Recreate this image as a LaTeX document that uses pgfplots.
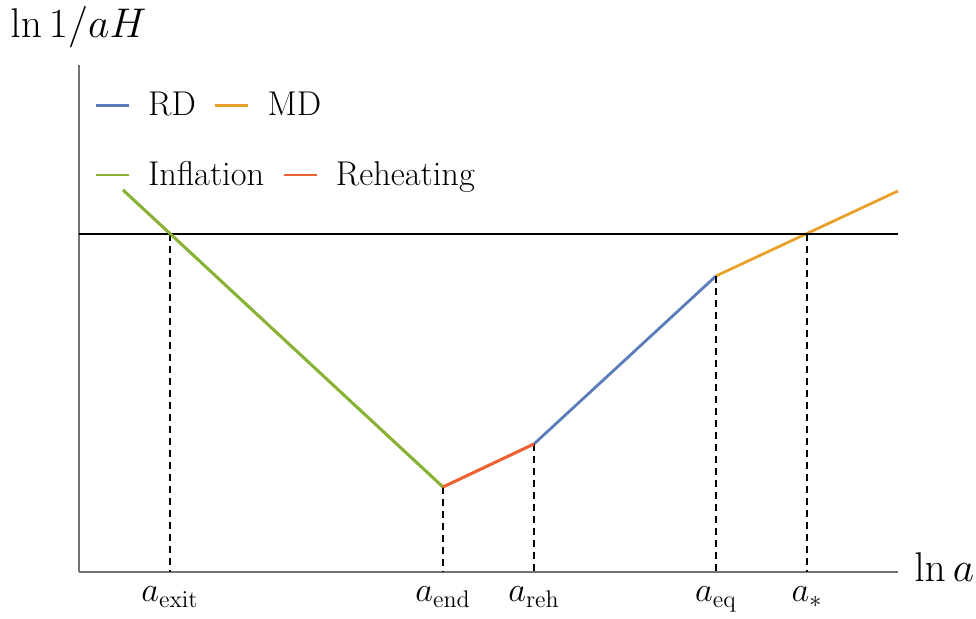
\documentclass[border=0pt]{standalone}
\usepackage{pgfplots}
\pgfplotsset{compat=1.18}
\definecolor{cRD}{RGB}{90,125,185}
\definecolor{cMD}{RGB}{232,160,42}
\definecolor{cInf}{RGB}{138,178,52}
\definecolor{cReh}{RGB}{238,98,52}
\begin{document}
\begin{tikzpicture}
\begin{axis}[
  x=0.5pt, y=0.5pt,
  xmin=79, xmax=898, ymin=47, ymax=554,
  clip=false,
  axis x line*=bottom, axis y line*=left,
  axis line style={draw=black!55, line width=0.7pt},
  xtick={170,443,534,716,807},
  xticklabels={$a_{\mathrm{exit}}$,$a_{\mathrm{end}}$,$a_{\mathrm{reh}}$,$a_{\mathrm{eq}}$,$a_{*}$},
  ytick=\empty,
  major tick length=0pt,
  xticklabel style={anchor=base, yshift=-15pt, font=\fontsize{17.6}{20}\selectfont},
  xlabel={$\ln a$},
  xlabel style={at={(axis description cs:1.0195,-0.0197)}, anchor=base west, inner sep=0pt, font=\fontsize{21.5}{24}\selectfont},
  ylabel={$\ln 1/aH$},
  ylabel style={rotate=-90, at={(axis description cs:-0.0842,1.0533)}, anchor=base west, inner sep=0pt, font=\fontsize{20.8}{24}\selectfont},
  legend columns=2,
  legend style={at={(axis cs:88,535)}, anchor=north west, draw=none, fill=none,
    font=\fontsize{17.2}{20}\selectfont,
    /tikz/every even column/.append style={column sep=7pt}},
  legend cell align=left,
  legend image code/.code={\draw[#1] (0pt,0pt) -- (16.5pt,0pt); \path (23.5pt,0pt);},
]
\path (axis cs:0,0) rectangle (axis cs:976,619);
\addplot[cRD, line width=1.4pt] coordinates {(534,175) (716,343)};
\addlegendentry{RD}
\addplot[cMD, line width=1.4pt] coordinates {(716,343) (898,428)};
\addlegendentry{MD}
\addplot[cInf, line width=1.4pt, forget plot] coordinates {(123,429) (443,132)};
\addplot[cReh, line width=1.4pt, forget plot] coordinates {(443,132) (534,175)};
\addplot[black, line width=1pt, forget plot] coordinates {(79,385) (898,385)};
\addplot[black, line width=0.9pt, dash pattern=on 3.5pt off 2.5pt, forget plot] coordinates {(170,385) (170,47)};
\addplot[black, line width=0.9pt, dash pattern=on 3.5pt off 2.5pt, forget plot] coordinates {(443,132) (443,47)};
\addplot[black, line width=0.9pt, dash pattern=on 3.5pt off 2.5pt, forget plot] coordinates {(534,175) (534,47)};
\addplot[black, line width=0.9pt, dash pattern=on 3.5pt off 2.5pt, forget plot] coordinates {(716,343) (716,47)};
\addplot[black, line width=0.9pt, dash pattern=on 3.5pt off 2.5pt, forget plot] coordinates {(807,385) (807,47)};
\end{axis}
\begin{axis}[
  x=0.5pt, y=0.5pt,
  xmin=79, xmax=898, ymin=47, ymax=554,
  hide axis, clip=false,
  legend columns=2,
  legend style={at={(axis cs:88,466)}, anchor=north west, draw=none, fill=none,
    font=\fontsize{17.2}{20}\selectfont,
    /tikz/every even column/.append style={column sep=7pt}},
  legend cell align=left,
  legend image code/.code={\draw[#1] (0pt,0pt) -- (16.5pt,0pt); \path (23.5pt,0pt);},
]
\addplot[cInf, line width=1.4pt] coordinates {(123,429) (443,132)};
\addlegendentry{Inflation}
\addplot[cReh, line width=1.4pt] coordinates {(443,132) (534,175)};
\addlegendentry{Reheating}
\end{axis}
\end{tikzpicture}
\end{document}
